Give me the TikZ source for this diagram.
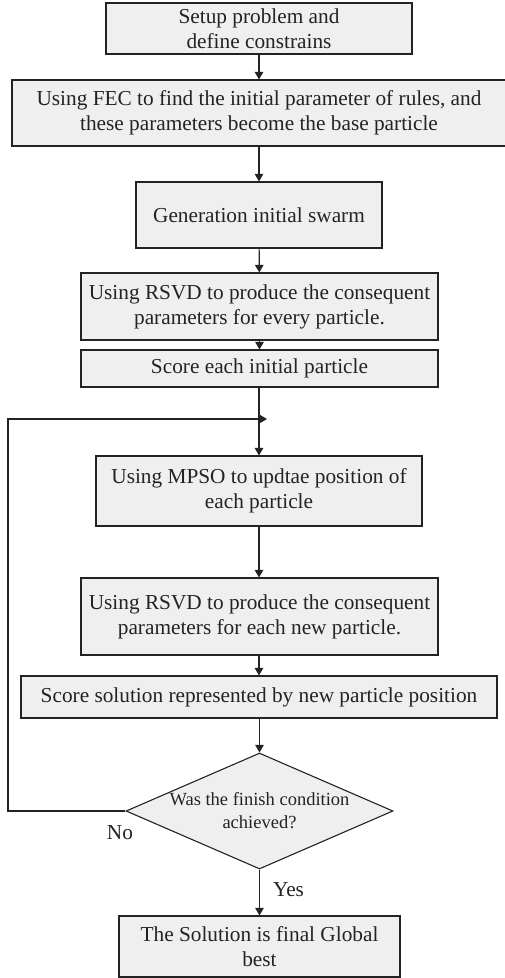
\documentclass[tikz,border=0pt]{standalone}
\usepackage{fontspec}
\setmainfont{Liberation Serif}
\usetikzlibrary{shapes.geometric,arrows.meta}
\definecolor{boxfill}{RGB}{239,239,239}
\definecolor{ink}{RGB}{35,35,35}
\begin{document}
\begin{tikzpicture}[x=1pt,y=-1pt,
  stepbox/.style={draw=ink, line width=1.1pt, fill=boxfill, text=ink,
    rectangle, inner sep=0pt, align=center,
    font=\fontsize{21.3}{25}\selectfont},
  decide/.style={draw=ink, line width=1.1pt, fill=boxfill,
    diamond, aspect=2.3, inner sep=0pt,
    minimum width=267pt, minimum height=116pt},
  decidetext/.style={text=ink, inner sep=0pt, align=center,
    font=\fontsize{18.5}{23}\selectfont},
  flow/.style={draw=ink, line width=1.1pt, -{Triangle[length=7.5pt,width=8.5pt]}},
  tag/.style={text=ink, font=\fontsize{21.3}{25}\selectfont, inner sep=0pt}]
\useasboundingbox (0,0) rectangle (504,978);

% process steps
\node[stepbox, minimum width=306pt, minimum height=51pt] (setup) at (259,28.5)
  {Setup problem and\\define constrains};
\node[stepbox, minimum width=494pt, minimum height=66pt] (fec) at (259,113)
  {Using FEC to find the initial parameter of rules, and\\these parameters become the base particle};
\node[stepbox, minimum width=246pt, minimum height=66pt] (swarm) at (259,215)
  {Generation initial swarm};
\node[stepbox, minimum width=357pt, minimum height=67pt] (rsvd1) at (259.5,306.5)
  {Using RSVD to produce the consequent\\parameters for every particle.};
\node[stepbox, minimum width=357pt, minimum height=37pt] (score1) at (259.5,368.5)
  {Score each initial particle};
\node[stepbox, minimum width=326pt, minimum height=70pt] (mpso) at (259,491)
  {Using MPSO to updtae position of\\each particle};
\node[stepbox, minimum width=357pt, minimum height=77pt] (rsvd2) at (259.5,616.5)
  {Using RSVD to produce the consequent\\parameters for each new particle.};
\node[stepbox, minimum width=476pt, minimum height=42pt] (score2) at (259,697)
  {Score solution represented by new particle position};
\node[decide] (done) at (259.5,811) {};
\node[decidetext] (donetext) at (259.5,811)
  {Was the finish condition\\achieved?};
\node[stepbox, minimum width=281pt, minimum height=61pt] (best) at (259.5,946.5)
  {The Solution is final Global\\best};

% branch labels
\node[tag] (no) at (120,833) {No};
\node[tag] (yes) at (288.5,890) {Yes};

% loop-back route
\coordinate (loopcorner) at (8,419);
\coordinate (merge) at (267,419);

% connectors
\draw[flow] (setup) -- (fec);
\draw[flow] (fec) -- (swarm);
\draw[flow] (swarm) -- (rsvd1);
\draw[flow] (rsvd1.south -| score1.north) -- (score1.north);
\draw[flow] (score1.south -| mpso.north) -- (mpso.north);
\draw[flow] (mpso.south) -- (mpso.south |- rsvd2.north);
\draw[flow] (rsvd2.south -| score2.north) -- (score2.north);
\draw[flow] (score2.south -| done.north) -- (done.north);
\draw[flow] (done.south) -- (best.north);
\draw[flow] (done.west) -| (loopcorner) -- (merge);
\end{tikzpicture}
\end{document}
